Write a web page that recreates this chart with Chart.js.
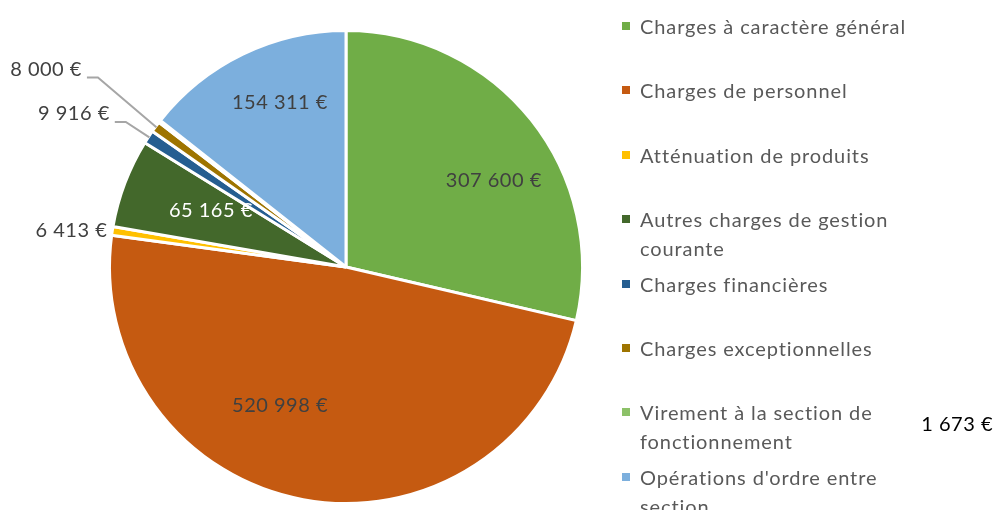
<!DOCTYPE html>
<html>
<head>
<meta charset="utf-8">
<script src="https://cdn.jsdelivr.net/npm/chart.js@4"></script>
<style>
    html, body { margin: 0; padding: 0; background: #fff; overflow: hidden; }
    #wrap { position: relative; width: 996px; height: 510px; }
    #pieChart { position: absolute; left: 0; top: 0; }
    #legend { position: absolute; left: 618px; top: 12px; margin: 0; padding: 0; list-style: none; }
    #legend li { position: relative; height: 64.4px; padding-left: 22px; width: 278px;
        font-family: Lato, "Open Sans", sans-serif; font-size: 20px; letter-spacing: 0.9px;
        line-height: 29px; color: #595959; }
    #legend li span { position: absolute; left: 4px; top: 10px; width: 8px; height: 8px; }
</style>
</head>
<body>
<div id="wrap">
    <canvas id="pieChart" width="996" height="510"></canvas>
    <ul id="legend"></ul>
</div>
<script>
const labels = [
    "Charges à caractère général",
    "Charges de personnel",
    "Atténuation de produits",
    "Autres charges de gestion courante",
    "Charges financières",
    "Charges exceptionnelles",
    "Virement à la section de fonctionnement",
    "Opérations d'ordre entre section",
];
const values = [307600, 520998, 6413, 65165, 9916, 8000, 1673, 154311];
const colors = ["#70AD47", "#C55A11", "#FFC000", "#43682B", "#255E91", "#9E7400", "#8CC168", "#7CAFDD"];

// where each value label goes: angle shift (deg) and distance as a fraction of the radius
const labelShift = [8, 15, 0, 2, 0, 1, 0, 4];
const labelDist = [0.725, 0.65, 1.0, 0.62, 1.115, 1.32, 0, 0.75];
const labelMode = ["in", "in", "edge", "in", "leader", "leader", "fixed", "in"];
const labelColor = ["#404040", "#404040", "#404040", "#ffffff", "#404040", "#404040", "#000000", "#404040"];

function euro(v) {
    return v.toLocaleString("fr-FR").replace(/\s/g, " ") + " €";
}

const valueLabels = {
    id: "valueLabels",
    afterDatasetsDraw(chart) {
        const ctx = chart.ctx;
        const arcs = chart.getDatasetMeta(0).data;
        ctx.save();
        ctx.font = "20px Lato, 'Open Sans', sans-serif";
        ctx.letterSpacing = "0.5px";
        ctx.textBaseline = "middle";
        arcs.forEach((arc, i) => {
            const p = arc.getProps(["x", "y", "startAngle", "endAngle", "outerRadius"], true);
            const mid = (p.startAngle + p.endAngle) / 2;
            const text = euro(values[i]);
            ctx.fillStyle = labelColor[i];
            if (labelMode[i] === "in") {
                const a = mid + labelShift[i] * Math.PI / 180;
                const r = labelDist[i] * p.outerRadius;
                ctx.textAlign = "center";
                ctx.fillText(text, p.x + Math.cos(a) * r, p.y + Math.sin(a) * r);
            } else if (labelMode[i] === "edge") {
                const r = p.outerRadius;
                ctx.textAlign = "right";
                ctx.fillText(text, p.x + Math.cos(mid) * r - 5, p.y + Math.sin(mid) * r);
            } else if (labelMode[i] === "leader") {
                const a = mid + labelShift[i] * Math.PI / 180;
                const r = labelDist[i] * p.outerRadius;
                const ex = p.x + Math.cos(a) * r, ey = p.y + Math.sin(a) * r;
                ctx.strokeStyle = "#A6A6A6";
                ctx.lineWidth = 2;
                ctx.beginPath();
                ctx.moveTo(p.x + Math.cos(mid) * (p.outerRadius - 1), p.y + Math.sin(mid) * (p.outerRadius - 1));
                ctx.lineTo(ex, ey);
                ctx.lineTo(ex - 11, ey);
                ctx.stroke();
                ctx.textAlign = "right";
                ctx.fillText(text, ex - 16, ey - 8);
            } else {
                // Excel left this one floating on the far right
                ctx.textAlign = "right";
                ctx.fillText(text, chart.width - 3, 425);
            }
        });
        ctx.restore();
    },
};

const pieChart = new Chart(document.getElementById("pieChart"), {
    type: "pie",
    data: {
        labels: labels,
        datasets: [{
            data: values,
            backgroundColor: colors,
            borderColor: "#ffffff",
            borderWidth: 3,
        }],
    },
    options: {
        responsive: false,
        animation: false,
        layout: {
            padding: { left: 108, right: 412, top: 29, bottom: 5 },
        },
        plugins: {
            legend: { display: false },
            tooltip: { enabled: false },
        },
    },
    plugins: [valueLabels],
});

// Legend, built from the same arrays
const legend = document.getElementById("legend");
labels.forEach((label, i) => {
    const li = document.createElement("li");
    const box = document.createElement("span");
    box.style.background = colors[i];
    li.appendChild(box);
    li.appendChild(document.createTextNode(label));
    legend.appendChild(li);
});
</script>
</body>
</html>
